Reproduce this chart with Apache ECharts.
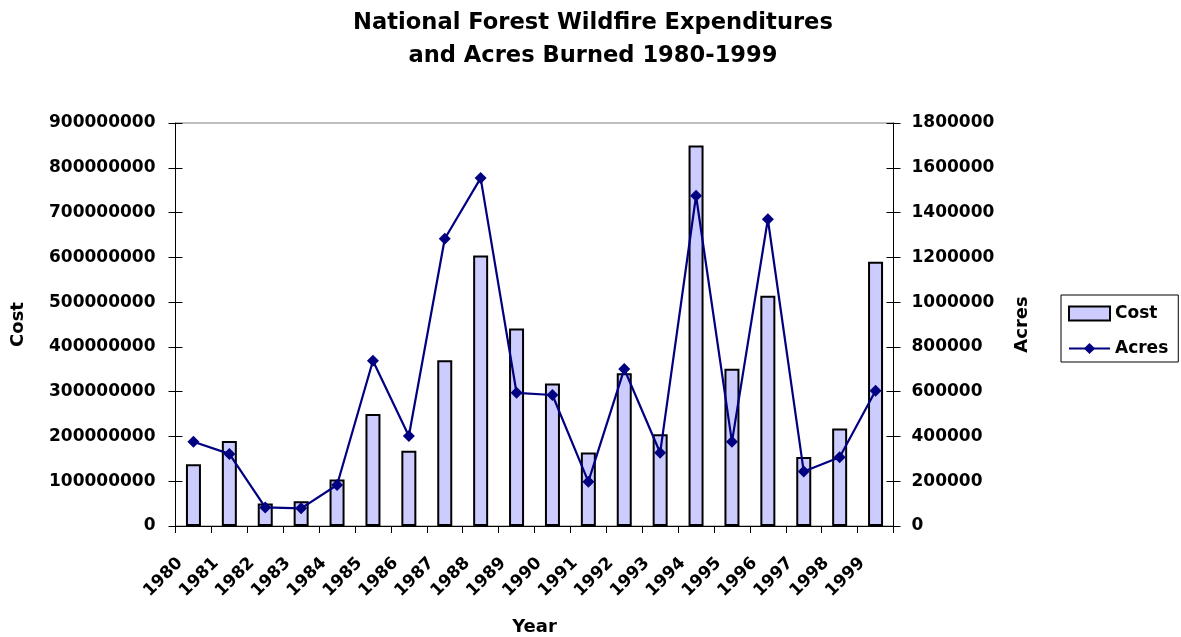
<!DOCTYPE html>
<html>
<head>
<meta charset="utf-8">
<script src="https://cdn.jsdelivr.net/npm/echarts@6/dist/echarts.min.js"></script>
<style>
html,body{margin:0;padding:0;background:#fff;}
#chart{width:1181px;height:637px;}
</style>
</head>
<body>
<div id="chart"></div>
<script>
const years = ['1980','1981','1982','1983','1984','1985','1986','1987','1988','1989','1990','1991','1992','1993','1994','1995','1996','1997','1998','1999'];
const cost = [138e6,190e6,50e6,55e6,104e6,250e6,168e6,370e6,604e6,441e6,318e6,164e6,341e6,205e6,850e6,351e6,514e6,154e6,218e6,590e6];
const acres = [376000,322000,83000,79000,183000,738000,402000,1283000,1554000,595000,585000,198000,701000,327000,1475000,376000,1370000,243000,307000,604000];
const titleLines = ['National Forest Wildfire Expenditures','and Acres Burned 1980-1999'];

const FONT = 'DejaVu Sans';
const lab = {color:'#000', fontFamily:FONT, fontWeight:'bold', fontSize:17};
const chart = echarts.init(document.getElementById('chart'), null, {renderer:'canvas'});
const plain = v => String(v);

chart.setOption({
  animation:false,
  backgroundColor:'#fff',
  title:{
    text: titleLines.join('\n'),
    left:588, top:1, textAlign:'center',
    textStyle:{color:'#000', fontFamily:FONT, fontWeight:'bold', fontSize:22.6, lineHeight:33.5}
  },
  legend:{
    orient:'vertical',
    left:1061, top:295,
    padding:[10,10,5,7],
    itemGap:18,
    itemWidth:41, itemHeight:14,
    borderColor:'#000', borderWidth:1,
    backgroundColor:'#fff',
    textStyle:Object.assign({}, lab),
    data:[{name:'Cost', icon:'rect'},{name:'Acres'}]
  },
  grid:{
    left:175.5, right:287.5, top:123, bottom:111,
    show:true, borderColor:'#808080', borderWidth:1,
    containLabel:false, outerBoundsMode:'none'
  },
  xAxis:[{
    type:'category', data:years, boundaryGap:true,
    name:'Year', nameLocation:'middle', nameGap:92,
    nameTextStyle:{color:'#000', fontFamily:FONT, fontWeight:'bold', fontSize:18},
    axisLine:{lineStyle:{color:'#000', width:1}},
    axisTick:{show:true, length:7, lineStyle:{color:'#000'}},
    axisLabel:Object.assign({interval:0, rotate:45, margin:21, padding:[0,19,0,0]}, lab),
    splitLine:{show:false}
  }],
  yAxis:[{
    type:'value', position:'left', min:0, max:900000000, interval:100000000,
    name:'Cost', nameLocation:'middle', nameGap:148,
    nameTextStyle:{color:'#000', fontFamily:FONT, fontWeight:'bold', fontSize:18},
    axisLine:{show:true, lineStyle:{color:'#000', width:1}},
    axisTick:{show:true, length:7, lineStyle:{color:'#000'}},
    axisLabel:Object.assign({margin:20, formatter:plain}, lab),
    splitLine:{show:false}
  },{
    type:'value', position:'right', min:0, max:1800000, interval:200000,
    name:'Acres', nameLocation:'middle', nameGap:120,
    nameTextStyle:{color:'#000', fontFamily:FONT, fontWeight:'bold', fontSize:18},
    axisLine:{show:true, lineStyle:{color:'#000', width:1}},
    axisTick:{show:true, length:7, lineStyle:{color:'#000'}},
    axisLabel:Object.assign({margin:18, formatter:plain}, lab),
    splitLine:{show:false}
  },{
    type:'value', position:'left', min:0, max:900000000, interval:100000000,
    axisLine:{show:false},
    axisTick:{show:true, inside:true, length:7, lineStyle:{color:'#000'}},
    axisLabel:{show:false}, splitLine:{show:false}
  },{
    type:'value', position:'right', min:0, max:1800000, interval:200000,
    axisLine:{show:false},
    axisTick:{show:true, inside:true, length:7, lineStyle:{color:'#000'}},
    axisLabel:{show:false}, splitLine:{show:false}
  }],
  series:[{
    name:'Cost', type:'bar', yAxisIndex:0, data:cost,
    barWidth:15,
    itemStyle:{color:'#CCCCFF', borderColor:'#000', borderWidth:2},
    z:2
  },{
    name:'Acres', type:'line', yAxisIndex:1, data:acres,
    symbol:'diamond', symbolSize:12,
    lineStyle:{color:'#000080', width:2.2},
    itemStyle:{color:'#000080'},
    z:3
  }]
});
</script>
</body>
</html>
